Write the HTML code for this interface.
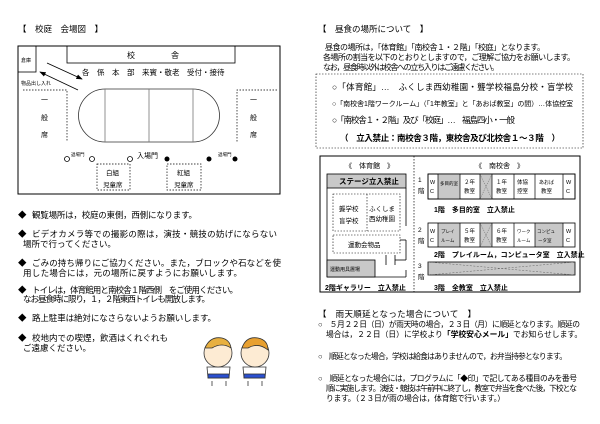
<!DOCTYPE html>
<html><head><meta charset="utf-8"><style>
html,body{margin:0;padding:0;background:#fff;}
svg{display:block;font-family:"Liberation Sans","Noto Sans CJK JP",sans-serif;}
</style></head><body>
<svg width="600" height="424" viewBox="0 0 600 424" xmlns="http://www.w3.org/2000/svg">
<defs><marker id="ah" markerWidth="8" markerHeight="6" refX="7" refY="3" orient="auto"><path d="M0,0 L8,3 L0,6 z" fill="#000"/></marker></defs>
<g fill="#000" font-size="8.5">
<!-- LEFT -->
<text x="18" y="32" font-size="8.5">【　校庭　会場図　】</text>
<rect x="18" y="46" width="262" height="148" fill="none" stroke="#000" stroke-width="1"/>
<rect x="67" y="46" width="168" height="17" fill="none" stroke="#000" stroke-width="0.8"/>
<text x="127" y="58" font-size="8">校</text><text x="171" y="58" font-size="8">舎</text>
<rect x="18" y="46" width="18" height="26" fill="none" stroke="#000" stroke-width="0.8"/>
<text x="21" y="62" font-size="5">倉庫</text>
<text x="82" y="75" font-size="7.5">各　係　本　部　来賓・敬老　受付・接待</text>
<text x="21" y="85" font-size="5">物品出し入れ</text>
<line x1="47" y1="63" x2="82" y2="79" stroke="#000" stroke-width="0.8" marker-end="url(#ah)"/>
<line x1="78" y1="90" x2="40" y2="72" stroke="#000" stroke-width="0.8" marker-end="url(#ah)"/>
<path d="M105,89 L193,89 A26.5,26.5 0 0 1 193,142 L105,142 A26.5,26.5 0 0 1 105,89 Z" fill="none" stroke="#333" stroke-width="0.8"/>
<line x1="105" y1="89" x2="105" y2="142" stroke="#777" stroke-width="0.8"/>
<line x1="149" y1="89" x2="149" y2="142" stroke="#777" stroke-width="0.8"/>
<line x1="193" y1="89" x2="193" y2="142" stroke="#777" stroke-width="0.8"/>
<path d="M23,90 L67,90 L67,142" fill="none" stroke="#000" stroke-width="0.7" stroke-dasharray="1.5,1.5"/>
<path d="M277,90 L237,90 L237,142" fill="none" stroke="#000" stroke-width="0.7" stroke-dasharray="1.5,1.5"/>
<text x="41" y="102" font-size="7">一</text><text x="41" y="120" font-size="7">般</text><text x="41" y="137" font-size="7">席</text>
<text x="250" y="102" font-size="7">一</text><text x="250" y="120" font-size="7">般</text><text x="250" y="137" font-size="7">席</text>
<g fill="#fff" stroke="#000" stroke-width="0.8"><circle cx="67" cy="159" r="2.5"/><circle cx="92" cy="159" r="2.5"/><circle cx="130" cy="159" r="2.5"/></g>
<circle cx="167" cy="159" r="2.5"/><circle cx="209" cy="159" r="2.5"/><circle cx="235" cy="159" r="2.5"/>
<text x="71" y="156" font-size="4.5">退場門</text><text x="218" y="156" font-size="4.5">退場門</text>
<text x="137" y="158" font-size="7">入場門</text>
<rect x="97" y="164" width="33" height="26" fill="none" stroke="#000" stroke-width="0.7" stroke-dasharray="1.5,1.5"/>
<rect x="167" y="164" width="34" height="26" fill="none" stroke="#000" stroke-width="0.7" stroke-dasharray="1.5,1.5"/>
<text x="106" y="175" font-size="6.5">白組</text><text x="103" y="187" font-size="6.5">児童席</text>
<text x="177" y="175" font-size="6.5">紅組</text><text x="174" y="187" font-size="6.5">児童席</text>

<text x="18" y="218" font-size="8.5">◆</text><text x="32" y="218" textLength="165">観覧場所は，校庭の東側，西側になります。</text>
<text x="18" y="237">◆</text><text x="32" y="237" textLength="245">ビデオカメラ等での撮影の際は，演技・競技の妨げにならない</text>
<text x="23" y="247">場所で行ってください。</text>
<text x="18" y="266">◆</text><text x="32" y="266" textLength="249">ごみの持ち帰りにご協力ください。また，ブロックや石などを使</text>
<text x="23" y="276" textLength="219">用した場合には，元の場所に戻すようにお願いします。</text>
<text x="18" y="293">◆</text><text x="32" y="293" textLength="206">トイレは，体育館用と南校舎１階西側　をご使用ください。</text>
<text x="23" y="302" textLength="187">なお昼食時に限り，１，２階東西トイレも開放します。</text>
<text x="18" y="321">◆</text><text x="32" y="321" textLength="184">路上駐車は絶対になさらないようお願いします。</text>
<text x="18" y="341">◆</text><text x="32" y="341" textLength="136">校地内での喫煙，飲酒はくれぐれも</text>
<text x="23" y="351">ご遠慮ください。</text>
<!-- kids -->
<g stroke="#333" stroke-width="0.8">
<path d="M207,367 L230,367 L229,378 L208,378 Z" fill="#fff"/><rect x="208" y="374" width="21" height="4" fill="#2a4fd0"/>
<path d="M243,367 L266,367 L265,378 L244,378 Z" fill="#fff"/><rect x="244" y="374" width="21" height="4" fill="#2a4fd0"/>
<circle cx="218" cy="353" r="14" fill="#fdebd3"/><circle cx="255" cy="353" r="14" fill="#fdebd3"/>
<path d="M205,348 Q210,336 222,338 Q230,340 231,348 Q222,342 212,348 Z" fill="#e8b040"/>
<path d="M242,348 Q246,336 258,338 Q268,340 268,350 Q258,342 248,348 Z" fill="#e8a030"/>
<line x1="212" y1="381" x2="212" y2="386"/><line x1="226" y1="381" x2="226" y2="386"/>
<line x1="248" y1="381" x2="248" y2="386"/><line x1="262" y1="381" x2="262" y2="386"/>
</g>

<!-- RIGHT -->
<text x="318" y="32">【　昼食の場所について　】</text>
<text x="325" y="50" font-size="8" textLength="220">昼食の場所は，「体育館」「南校舎１・２階」「校庭」となります。</text>
<text x="323" y="60" font-size="8" textLength="252">各場所の割当を以下のとおりとしますので，ご理解ご協力をお願いします。</text>
<text x="323" y="70" font-size="8" textLength="176">なお，昼食時以外は校舎への立ち入りはご遠慮ください。</text>
<rect x="316" y="74" width="267" height="74" fill="none" stroke="#000" stroke-width="0.6" stroke-dasharray="1.5,1.5"/>
<text x="332" y="90" textLength="241">○「体育館」…　ふくしま西幼稚園・聾学校福島分校・盲学校</text>
<text x="332" y="106" font-size="7" textLength="241">○「南校舎1階ワークルーム」（「1年教室」と「あおば教室」の間）…体協控室</text>
<text x="332" y="123" textLength="183">○「南校舎１・２階」及び「校庭」…　福島四小・一般</text>
<text x="340" y="141" font-weight="bold" textLength="220">（　立入禁止：南校舎３階，東校舎及び北校舎１～３階　）</text>

<rect x="320" y="156" width="260" height="136" fill="none" stroke="#000" stroke-width="1"/>
<line x1="414" y1="156" x2="414" y2="292" stroke="#000" stroke-width="0.7" stroke-dasharray="1.5,1.5"/>
<text x="345" y="168" font-size="7">《　体育館　》</text>
<text x="475" y="168" font-size="7">《　南校舎　》</text>
<rect x="327" y="174" width="79" height="14" fill="#c8c8c8" stroke="#000" stroke-width="0.8"/>
<text x="339" y="184" font-size="7.5" font-weight="bold">ステージ立入禁止</text>
<line x1="327" y1="188" x2="327" y2="277" stroke="#000" stroke-width="0.8"/>
<line x1="406" y1="188" x2="406" y2="226" stroke="#000" stroke-width="0.8"/>
<line x1="406" y1="240" x2="406" y2="260" stroke="#000" stroke-width="0.8"/>
<line x1="400" y1="240" x2="406" y2="240" stroke="#000" stroke-width="0.8"/>
<line x1="395" y1="260" x2="406" y2="260" stroke="#000" stroke-width="0.8"/>
<line x1="386" y1="255" x2="386" y2="265" stroke="#000" stroke-width="0.8"/>
<line x1="395" y1="255" x2="395" y2="265" stroke="#000" stroke-width="0.8"/>
<line x1="327" y1="277" x2="406" y2="277" stroke="#000" stroke-width="0.8"/>
<line x1="406" y1="270" x2="406" y2="277" stroke="#000" stroke-width="0.8"/>
<rect x="333" y="194" width="67" height="37" fill="none" stroke="#000" stroke-width="0.6" stroke-dasharray="1.5,1.5"/>
<line x1="367" y1="194" x2="367" y2="231" stroke="#000" stroke-width="0.6" stroke-dasharray="1.5,1.5"/>
<text x="339" y="211" font-size="6.5">聾学校</text><text x="339" y="223" font-size="6.5">盲学校</text>
<text x="369" y="211" font-size="6.5">ふくしま</text><text x="369" y="221" font-size="6.5">西幼稚園</text>
<rect x="333" y="235" width="67" height="18" fill="none" stroke="#000" stroke-width="0.6" stroke-dasharray="1.5,1.5"/>
<text x="348" y="247" font-size="6.5">運動会物品</text>
<rect x="327" y="260" width="48" height="17" fill="#c8c8c8" stroke="#000" stroke-width="0.8"/>
<text x="330" y="271" font-size="5">運動用具置場</text>
<text x="325" y="290" font-size="7" font-weight="bold">2階ギャラリー　立入禁止</text>

<text x="418" y="182" font-size="6.5">1</text><text x="418" y="193" font-size="6.5">階</text>
<rect x="428" y="174" width="147" height="25" fill="#fff" stroke="#000" stroke-width="0.8"/>
<rect x="438" y="174" width="22" height="25" fill="#c8c8c8"/>
<rect x="480" y="174" width="12" height="25" fill="#c8c8c8"/>
<g stroke="#000" stroke-width="0.7"><line x1="438" y1="174" x2="438" y2="199"/><line x1="460" y1="174" x2="460" y2="199"/><line x1="480" y1="174" x2="480" y2="199"/><line x1="492" y1="174" x2="492" y2="199"/><line x1="514" y1="174" x2="514" y2="199"/><line x1="535" y1="174" x2="535" y2="199"/><line x1="563" y1="174" x2="563" y2="199"/></g>
<path d="M480,174 L492,199 M492,174 L480,199" stroke="#555" stroke-width="0.5" stroke-dasharray="1,1"/>
<rect x="428" y="174" width="147" height="25" fill="none" stroke="#000" stroke-width="0.8"/>
<g font-size="5.5"><text x="430" y="184">W</text><text x="430" y="193">C</text><text x="440" y="185" font-size="4.5">多目的室</text>
<text x="464" y="184">２年</text><text x="464" y="193">教室</text><text x="496" y="184">１年</text><text x="496" y="193">教室</text>
<text x="517" y="184">体協</text><text x="517" y="193">控室</text><text x="539" y="184" font-size="5">あおば</text><text x="541" y="193">教室</text>
<text x="566" y="184">W</text><text x="566" y="193">C</text></g>
<text x="434" y="212" font-size="7" font-weight="bold">1階　多目的室　立入禁止</text>

<text x="418" y="232" font-size="6.5">2</text><text x="418" y="243" font-size="6.5">階</text>
<rect x="428" y="223" width="147" height="24" fill="#fff"/>
<rect x="438" y="223" width="22" height="24" fill="#c8c8c8"/>
<rect x="480" y="223" width="12" height="24" fill="#c8c8c8"/>
<rect x="535" y="223" width="28" height="24" fill="#c8c8c8"/>
<g stroke="#000" stroke-width="0.7"><line x1="438" y1="223" x2="438" y2="247"/><line x1="460" y1="223" x2="460" y2="247"/><line x1="480" y1="223" x2="480" y2="247"/><line x1="492" y1="223" x2="492" y2="247"/><line x1="514" y1="223" x2="514" y2="247"/><line x1="535" y1="223" x2="535" y2="247"/><line x1="563" y1="223" x2="563" y2="247"/></g>
<path d="M480,223 L492,247 M492,223 L480,247" stroke="#555" stroke-width="0.5" stroke-dasharray="1,1"/>
<rect x="428" y="223" width="147" height="24" fill="none" stroke="#000" stroke-width="0.8"/>
<g font-size="5.5"><text x="430" y="233">W</text><text x="430" y="242">C</text><text x="441" y="233" font-size="4.5">プレイ</text><text x="441" y="242" font-size="4.5">ルーム</text>
<text x="464" y="233">５年</text><text x="464" y="242">教室</text><text x="496" y="233">６年</text><text x="496" y="242">教室</text>
<text x="517" y="233" font-size="4.5">ワーク</text><text x="517" y="242" font-size="4.5">ルーム</text><text x="537" y="233" font-size="4.5">コンピュ</text><text x="538" y="242" font-size="4.5">ータ室</text>
<text x="566" y="233">W</text><text x="566" y="242">C</text></g>
<text x="434" y="257" font-size="7" font-weight="bold">2階　プレイルーム，コンピュータ室　立入禁止</text>

<text x="418" y="268" font-size="6.5">3</text><text x="418" y="279" font-size="6.5">階</text>
<rect x="428" y="262" width="147" height="13" fill="#c8c8c8" stroke="#000" stroke-width="0.8"/>
<path d="M428,262 L575,275 M428,275 L575,262" stroke="#666" stroke-width="0.5" stroke-dasharray="2,1.5"/>
<text x="434" y="290" font-size="7" font-weight="bold">3階　全教室　立入禁止</text>

<text x="318" y="317" textLength="158">【　雨天順延となった場合について　】</text>
<g font-size="7.8">
<text x="318" y="327" textLength="262">○　５月２２日（日）が雨天時の場合，２３日（月）に順延となります。順延の</text>
<text x="326" y="337">場合は，２２日（日）に学校より<tspan font-weight="bold">「学校安心メール」</tspan>でお知らせします。</text>
<text x="318" y="359" textLength="249">○　順延となった場合，学校は給食はありませんので，お弁当持参となります。</text>
<text x="318" y="381" textLength="259">○　順延となった場合には，プログラムに「◆印」で記してある種目のみを番号</text>
<text x="326" y="391" textLength="251">順に実施します。演技・競技は午前中に終了し，教室で弁当を食べた後，下校とな</text>
<text x="326" y="401" textLength="179">ります。（２３日が雨の場合は，体育館で行います。）</text>
</g>
</g>
</svg>
</body></html>
